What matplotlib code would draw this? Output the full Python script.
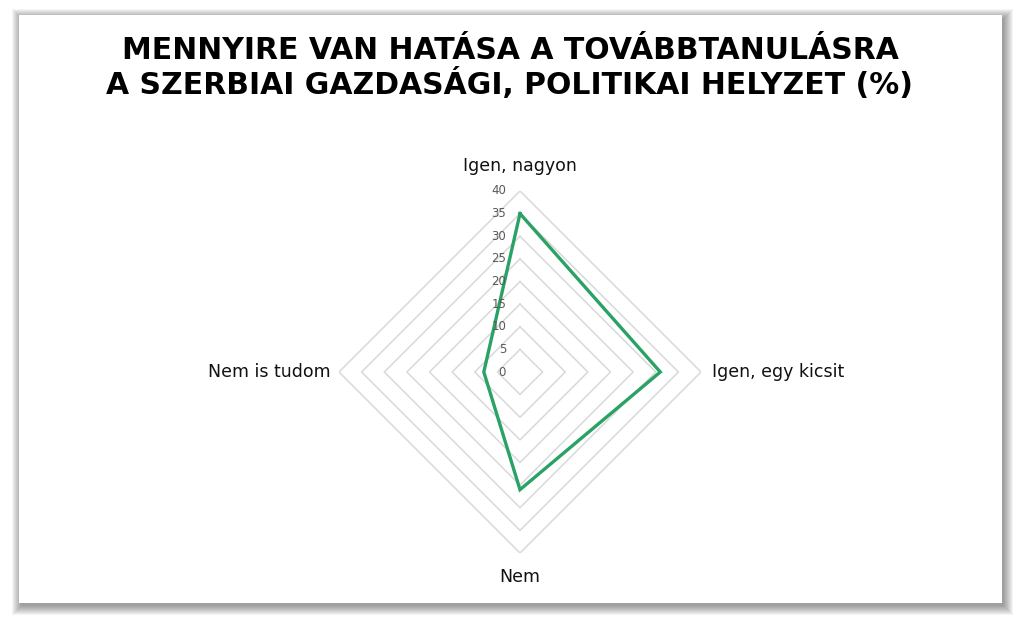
import numpy as np
import matplotlib
matplotlib.use("Agg")
from matplotlib import pyplot as plt
from matplotlib import transforms
from matplotlib.patches import Rectangle

# data
categories = ["Igen, nagyon", "Igen, egy kicsit", "Nem", "Nem is tudom"]
values = [35, 31, 26, 8]
levels = [5, 10, 15, 20, 25, 30, 35, 40]
tick_values = [0, 5, 10, 15, 20, 25, 30, 35, 40]

title = "MENNYIRE VAN HATÁSA A TOVÁBBTANULÁSRA\nA SZERBIAI GAZDASÁGI, POLITIKAI HELYZET (%)"

W, H = 1024, 624
fig = plt.figure(figsize=(W / 100, H / 100), dpi=100)
fig.patch.set_facecolor("white")

# card with soft shadow
x0, y0, cw, ch = 19, 21, 983, 588
for i in range(10):
    fig.patches.append(Rectangle(((x0 + 2 - i) / W, (y0 - 3 - i) / H),
                                 (cw + 2 * i) / W, (ch + 2 * i) / H,
                                 transform=fig.transFigure, facecolor="#000000",
                                 alpha=0.045, edgecolor="none", zorder=0))
fig.patches.append(Rectangle((x0 / W, y0 / H), cw / W, ch / H,
                             transform=fig.transFigure, facecolor="white",
                             edgecolor="none", zorder=1))

fig.text(510 / W, 1 - 68 / H, title, ha="center", va="center", fontsize=21.5,
         fontweight="bold", family="DejaVu Sans", linespacing=1.12, zorder=5)

cx, cy, R = 520, 372, 181
ax = fig.add_axes([(cx - R) / W, (H - cy - R) / H, 2 * R / W, 2 * R / H],
                  projection="polar", zorder=3)
ax.set_theta_zero_location("N")
ax.set_theta_direction(-1)
ax.set_ylim(0, 40)
ax.set_facecolor("none")
ax.grid(False)
ax.spines["polar"].set_visible(False)
ax.set_xticks([])
ax.set_yticks([])

n = len(categories)
theta = np.arange(n) * 2 * np.pi / n
theta_c = np.append(theta, theta[0])

for lv in levels:
    ax.plot(theta_c, [lv] * (n + 1), color="#d9d9d9", lw=1.1, zorder=1)

vals = np.append(values, values[0])
ax.plot(theta_c, vals, color="#2aa265", lw=2.4, zorder=4, solid_joinstyle="miter")

for t in tick_values:
    tr = transforms.offset_copy(ax.transData, fig=fig, x=-10, y=0, units="points")
    ax.text(0, t, str(t), transform=tr, ha="right", va="center",
            fontsize=8.5, color="#595959", zorder=5)

offsets = [(0, 18, "center", "center"), (8, 0, "left", "center"),
           (0, -17, "center", "center"), (-6, 0, "right", "center")]
for ang, lab, (dx, dy, ha, va) in zip(theta, categories, offsets):
    tr = transforms.offset_copy(ax.transData, fig=fig, x=dx, y=dy, units="points")
    ax.text(ang, 40, lab, transform=tr, ha=ha, va=va, fontsize=12.5,
            color="#111111", zorder=5)

fig.savefig("out.png", dpi=100, facecolor="white")
